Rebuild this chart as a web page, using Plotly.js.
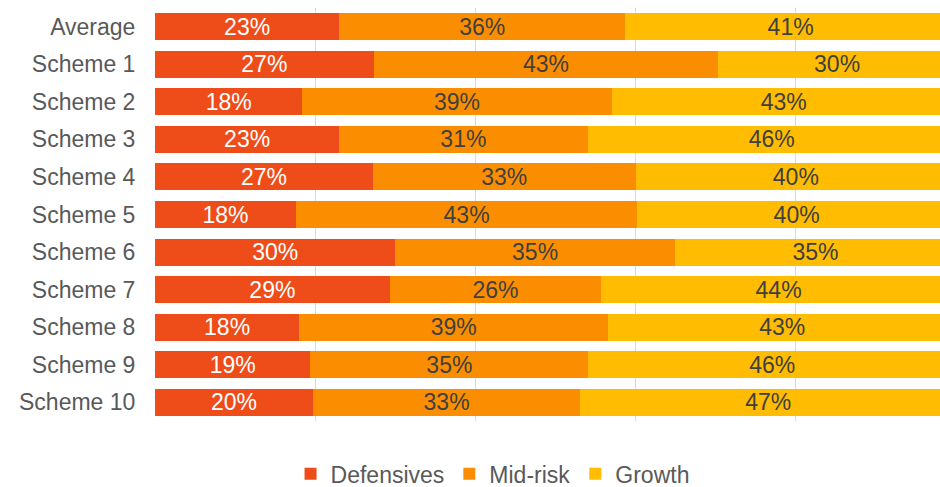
<!DOCTYPE html>
<html>
<head>
<meta charset="utf-8">
<script src="https://cdn.plot.ly/plotly-3.0.1.min.js"></script>
<style>
  html, body { margin: 0; padding: 0; background: #fff; overflow: hidden; }
  #chart { width: 940px; height: 487px; }
</style>
</head>
<body>
<div id="chart"></div>
<script>
const categories = ["Average", "Scheme 1", "Scheme 2", "Scheme 3", "Scheme 4", "Scheme 5",
                    "Scheme 6", "Scheme 7", "Scheme 8", "Scheme 9", "Scheme 10"];
const defensives = [23.0, 27.3, 18.4, 23.0, 27.2, 17.6, 30.0, 29.3, 18.0, 19.4, 19.7];
const midRisk    = [35.7, 43.0, 38.6, 31.0, 32.8, 42.6, 34.9, 26.4, 38.6, 34.7, 33.4];
const growth     = [41.3, 29.7, 43.0, 46.0, 40.0, 39.8, 35.1, 44.3, 43.4, 45.9, 46.9];
const seriesNames = ["Defensives", "Mid-risk", "Growth"];

const FONT = '"Liberation Sans", Arial, sans-serif';
const colors = ["#EE4C18", "#FB8E00", "#FFBC00"];
const textColors = ["#FFFFFF", "#404040", "#404040"];
const values = [defensives, midRisk, growth];

const traces = values.map((v, i) => ({
  type: 'bar',
  orientation: 'h',
  name: seriesNames[i],
  y: categories,
  x: v,
  marker: { color: colors[i], line: { width: 0 } },
  texttemplate: '%{x:.0f}%',
  textposition: 'inside',
  insidetextanchor: 'middle',
  textangle: 0,
  constraintext: 'none',
  textfont: { family: FONT, size: 23, color: textColors[i] },
  hoverinfo: 'skip'
}));

const layout = {
  width: 940,
  height: 487,
  margin: { l: 155, r: 0, t: 8, b: 66, pad: 0, autoexpand: false },
  barmode: 'stack',
  bargap: 0.28,
  paper_bgcolor: '#ffffff',
  plot_bgcolor: '#ffffff',
  font: { family: FONT, size: 23, color: '#595959' },
  xaxis: {
    range: [0, 98],
    dtick: 20,
    tick0: 0,
    showgrid: true,
    gridcolor: '#D9D9D9',
    gridwidth: 1,
    zeroline: false,
    showticklabels: false,
    showline: false,
    fixedrange: true
  },
  yaxis: {
    autorange: 'reversed',
    showgrid: false,
    zeroline: false,
    showline: false,
    ticks: 'outside',
    ticklen: 14,
    tickcolor: 'rgba(0,0,0,0)',
    tickfont: { family: FONT, size: 23, color: '#595959' },
    fixedrange: true
  },
  legend: {
    orientation: 'h',
    x: 0.43,
    xanchor: 'center',
    yref: 'container',
    y: 0.027,
    yanchor: 'middle',
    font: { family: FONT, size: 23, color: '#595959' },
    traceorder: 'normal',
    itemclick: false
  },
  showlegend: true
};

Plotly.newPlot('chart', traces, layout, { displayModeBar: false, staticPlot: true });
</script>
</body>
</html>
